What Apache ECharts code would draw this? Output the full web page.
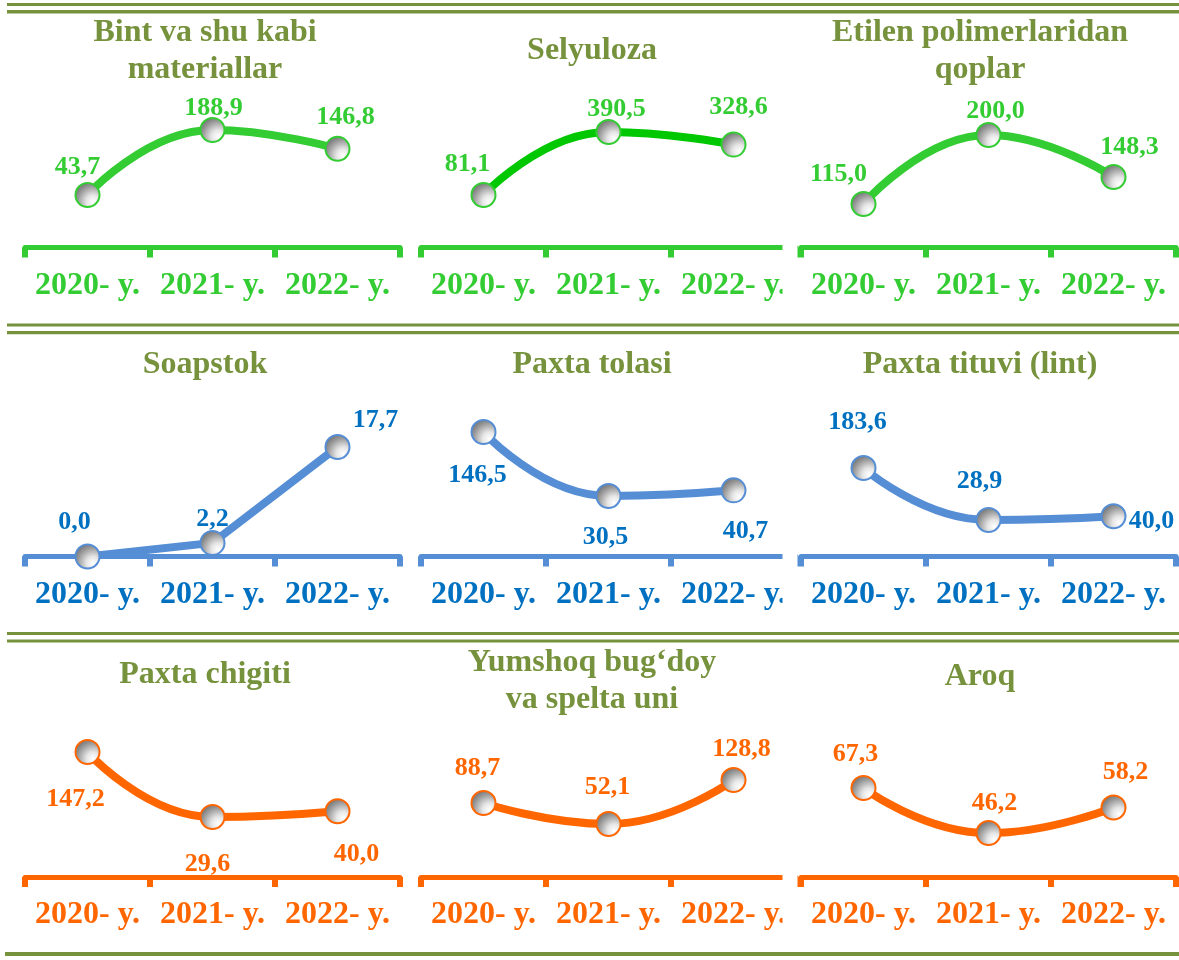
<!DOCTYPE html>
<html>
<head>
<meta charset="utf-8">
<style>
  html, body { margin: 0; padding: 0; background: #fff; }
  #chart { width: 1179px; height: 960px; }
</style>
<script src="https://cdn.jsdelivr.net/npm/echarts@6.0.0/dist/echarts.min.js"></script>
</head>
<body>
<div id="chart"></div>
<script>
// ── Data ──────────────────────────────────────────────────────────────
const categories = ['2020- y.', '2021- y.', '2022- y.'];

const bint         = [43.7, 188.9, 146.8];
const selyuloza    = [81.1, 390.5, 328.6];
const etilen       = [115.0, 200.0, 148.3];
const soapstok     = [0.0, 2.2, 17.7];
const paxtaTolasi  = [146.5, 30.5, 40.7];
const paxtaTituvi  = [183.6, 28.9, 40.0];
const paxtaChigiti = [147.2, 29.6, 40.0];
const yumshoq      = [88.7, 52.1, 128.8];
const aroq         = [67.3, 46.2, 58.2];

const panelTitles = [
  'Bint va shu kabi\nmateriallar', 'Selyuloza', 'Etilen polimerlaridan\nqoplar',
  'Soapstok', 'Paxta tolasi', 'Paxta tituvi (lint)',
  'Paxta chigiti', 'Yumshoq bug\u2018doy\nva spelta uni', 'Aroq'
];
const panelValues = [bint, selyuloza, etilen, soapstok, paxtaTolasi, paxtaTituvi,
                     paxtaChigiti, yumshoq, aroq];

// ── Layout / style ────────────────────────────────────────────────────
const OLIVE = '#76923C';
const SERIF = '"Times New Roman", "Liberation Serif", serif';

const rows = [
  { axisY: 247.5, top: 100, line: '#33CC33', label: '#33CC33' },
  { axisY: 556.5, top: 400, line: '#558ED5', label: '#0070C0' },
  { axisY: 877,   top: 720, line: '#FF6600', label: '#FF6600' }
];
const colLeft = [25, 421, 801];
const BAND_W = 375;

const titleX = [205, 592, 980];
const titleY = [51.5, 51, 51.5, 365, 365, 365, 675, 681.5, 677];

// per-panel y range so each small chart sits like the original
const yRange = [
  [-73.6, 255.9], [-176.8, 547.7], [61.4, 243.1],
  [0, 25.3], [-79.2, 204.5], [-79.7, 385.9],
  [-79, 205.1], [-40.3, 233.4], [25.6, 99.2]
];
const labelOffsets = [
  [[-10, -28], [1, -22], [8, -32]],
  [[-16, -31], [8, -23], [5, -37]],
  [[-25, -30], [7, -24], [16, -30]],
  [[-13, -34], [0, -24], [38, -27]],
  [[-6, 43], [-3, 41], [12, 41]],
  [[-6, -46], [-9, -39], [38, 5]],
  [[-12, 47], [-5, 47], [19, 43]],
  [[-6, -35], [-1, -37], [8, -31]],
  [[-8, -34], [6, -30], [12, -35]]
];
const lineColorOverride = { 1: '#00C800' };
const straightPanels = [3];

const fmt = v => v.toFixed(1).replace('.', ',');

// grey "ball" marker, lit from the lower right
const markerFill = {
  type: 'radial', x: 0.72, y: 0.76, r: 0.85,
  colorStops: [
    { offset: 0, color: '#ffffff' },
    { offset: 0.3, color: '#e6e6e6' },
    { offset: 0.7, color: '#9a9a9a' },
    { offset: 1, color: '#6a6a6a' }
  ]
};

const grid = [], xAxis = [], yAxis = [], series = [], graphic = [];

panelValues.forEach((vals, i) => {
  const r = rows[Math.floor(i / 3)];
  const c = i % 3;
  grid.push({ left: colLeft[c], width: BAND_W, top: r.top, height: r.axisY - r.top });
  xAxis.push({
    type: 'category', gridIndex: i, data: categories, boundaryGap: true,
    axisLine: { onZero: false, lineStyle: { color: r.line, width: 5 } },
    axisTick: { show: true, interval: 0, length: 10, lineStyle: { color: r.line, width: 6 } },
    axisLabel: {
      interval: 0, margin: 22, hideOverlap: false,
      color: r.label, fontSize: 32, fontWeight: 'bold', fontFamily: SERIF
    },
    splitLine: { show: false }
  });
  yAxis.push({ type: 'value', gridIndex: i, min: yRange[i][0], max: yRange[i][1], show: false });
  series.push({
    type: 'line', xAxisIndex: i, yAxisIndex: i,
    data: vals.map((v, j) => ({ value: v, label: { offset: labelOffsets[i][j] } })),
    smooth: straightPanels.includes(i) ? false : 0.5,
    symbol: 'circle', symbolSize: 24,
    lineStyle: { color: lineColorOverride[i] || r.line, width: 8 },
    itemStyle: { color: markerFill, borderColor: r.line, borderWidth: 2 },
    label: {
      show: true, position: 'inside', formatter: p => fmt(p.value),
      color: r.label, fontSize: 26, fontWeight: 'bold', fontFamily: SERIF,
      textBorderWidth: 0
    },
    emphasis: { disabled: true },
    animation: false
  });
  graphic.push({
    type: 'text', x: titleX[c], y: titleY[i],
    style: {
      text: panelTitles[i], fill: OLIVE, fontSize: 32, fontWeight: 'bold',
      fontFamily: SERIF, align: 'center', verticalAlign: 'middle', lineHeight: 37
    }
  });
});

// olive separator rules
[[7, 3, 3], [7, 10, 3.5], [7, 323.5, 3], [7, 331, 3.3],
 [7, 632, 3], [7, 639.5, 3], [5, 952, 4]].forEach(([x, y, h]) => {
  graphic.push({ type: 'rect', shape: { x, y, width: 1179 - x, height: h }, style: { fill: OLIVE } });
});

// the middle column is cut off on its right side in the original
rows.forEach(r => {
  graphic.push({
    type: 'rect', z: 100,
    shape: { x: 782.5, y: r.axisY - 6, width: 15, height: 70 },
    style: { fill: '#ffffff' }
  });
});

const chart = echarts.init(document.getElementById('chart'), null, { renderer: 'canvas' });
chart.setOption({
  backgroundColor: '#ffffff',
  animation: false,
  grid, xAxis, yAxis, series, graphic
});
</script>
</body>
</html>
